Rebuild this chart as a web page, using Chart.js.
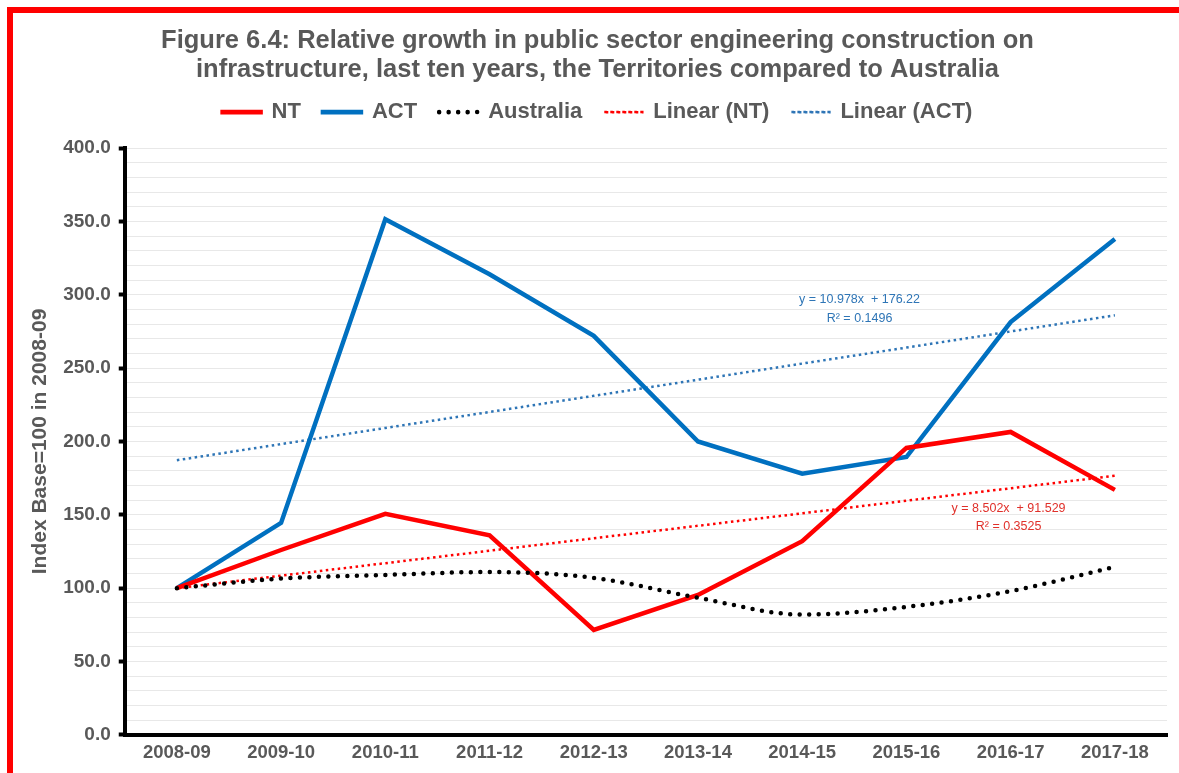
<!DOCTYPE html>
<html>
<head>
<meta charset="utf-8">
<script src="https://cdn.jsdelivr.net/npm/chart.js@4.4.0/dist/chart.umd.min.js"></script>
<style>
  html, body { margin: 0; padding: 0; background: #fff; overflow: hidden; }
  #frame { position: absolute; left: 7px; top: 7px; width: 1200px; height: 800px;
           border-left: 6px solid #ff0000; border-top: 6px solid #ff0000; }
  #wrap { position: absolute; left: 0; top: 0; width: 1179px; height: 773px; }
</style>
</head>
<body>
<div id="frame"></div>
<div id="wrap"><canvas id="fig64"></canvas></div>
<script>
// categories + values
const years = ['2008-09', '2009-10', '2010-11', '2011-12', '2012-13', '2013-14', '2014-15', '2015-16', '2016-17', '2017-18'];
const nt_vals = [100, 126, 150.6, 136, 71.5, 95.4, 132, 195.6, 206.5, 167];
const act_vals = [100, 144.5, 351.5, 314, 272, 200, 178, 189.4, 281.4, 338];
const aus_vals = [100, 106.5, 109, 111, 107, 93.4, 82, 87.2, 98, 114.5];
// trendline values as printed by the spreadsheet (y = 8.502x + 91.529, y = 10.978x + 176.22)
const nt_trend = [100.0, 108.5, 117.0, 125.5, 134.0, 142.5, 151.0, 159.6, 168.1, 176.6];
const act_trend = [187.2, 198.2, 209.2, 220.1, 231.1, 242.1, 253.1, 264.0, 275.0, 286.0];
const eq_labels = [
    { lines: ['y = 10.978x  + 176.22', 'R\u00b2 = 0.1496'], color: '#2e75b6', at: 6.55, val: [296.5, 283.5] },
    { lines: ['y = 8.502x  + 91.529', 'R\u00b2 = 0.3525'], color: '#e0302a', at: 7.98, val: [154.5, 142] }
];

const grey = '#595959';
const fam = '"Liberation Sans", Arial, sans-serif';

// writes the trendline equations on the plot area
const eqPlugin = {
    id: 'eqPlugin',
    afterDatasetsDraw(chart) {
        const c = chart.ctx;
        const xs = chart.scales.x, ys = chart.scales.y;
        c.save();
        c.font = '12.5px ' + fam;
        c.textAlign = 'center';
        c.textBaseline = 'middle';
        eq_labels.forEach(e => {
            c.fillStyle = e.color;
            e.lines.forEach((t, i) => {
                c.fillText(t, xs.getPixelForValue(e.at), ys.getPixelForValue(e.val[i]));
            });
        });
        c.restore();
    }
};

// a bit more room under the legend
const legendGap = {
    id: 'legendGap',
    beforeInit(chart) {
        const fit = chart.legend.fit;
        chart.legend.fit = function () {
            fit.bind(chart.legend)();
            this.height += 15;
        };
    }
};

let ctx = document.getElementById('fig64');
let chart = new Chart(ctx, {
    type: 'line',
    data: {
        labels: years,
        datasets: [
            { label: 'NT', data: nt_vals, borderColor: '#ff0000', backgroundColor: 'transparent', borderWidth: 4.5, pointRadius: 0, tension: 0, order: 1 },
            { label: 'ACT', data: act_vals, borderColor: '#0070c0', backgroundColor: 'transparent', borderWidth: 4.5, pointRadius: 0, tension: 0, order: 2 },
            { label: 'Australia', data: aus_vals, borderColor: '#000000', backgroundColor: 'transparent', borderWidth: 4.5, borderDash: [0, 9.5], borderCapStyle: 'round', pointRadius: 0, cubicInterpolationMode: 'monotone', order: 0 },
            { label: 'Linear (NT)', data: nt_trend, borderColor: '#ff0000', backgroundColor: 'transparent', borderWidth: 2.5, borderDash: [2.5, 3.5], pointRadius: 0, tension: 0, order: 3 },
            { label: 'Linear (ACT)', data: act_trend, borderColor: '#2e75b6', backgroundColor: 'transparent', borderWidth: 2.5, borderDash: [2.5, 3.5], pointRadius: 0, tension: 0, order: 4 }
        ]
    },
    options: {
        responsive: true,
        maintainAspectRatio: false,
        animation: false,
        layout: { padding: { left: 28, right: 12, top: 27, bottom: 2 } },
        scales: {
            x: {
                offset: true,
                grid: { display: false, drawTicks: false },
                border: { color: '#000', width: 4 },
                ticks: { color: grey, padding: 7, maxRotation: 0, font: { family: fam, size: 18.5, weight: 'bold' } }
            },
            y: {
                min: 0,
                max: 400,
                grid: {
                    color: '#e8e8e8',
                    lineWidth: 1,
                    tickLength: 6,
                    tickWidth: 4,
                    tickColor: c => (c.tick && c.tick.value % 50 === 0) ? '#000' : 'rgba(0,0,0,0)'
                },
                border: { color: '#000', width: 4 },
                ticks: {
                    stepSize: 10,
                    autoSkip: false,
                    color: grey,
                    padding: 8,
                    font: { family: fam, size: 19, weight: 'bold' },
                    callback: v => v % 50 === 0 ? v.toFixed(1) : ''
                },
                title: {
                    display: true,
                    text: 'Index Base=100 in 2008-09',
                    color: grey,
                    padding: { top: 0, bottom: 2 },
                    font: { family: fam, size: 21, weight: 'bold' }
                }
            }
        },
        plugins: {
            title: {
                display: true,
                text: ['Figure 6.4: Relative growth in public sector engineering construction on', 'infrastructure, last ten years, the Territories compared to Australia'],
                color: grey,
                padding: { top: 0, bottom: -5 },
                font: { family: fam, size: 25.5, weight: 'bold', lineHeight: 1.12 }
            },
            legend: {
                labels: {
                    boxWidth: 38,
                    boxHeight: 0.01,
                    color: grey,
                    padding: 22,
                    sort: (a, b) => a.datasetIndex - b.datasetIndex,
                    font: { family: fam, size: 22, weight: 'bold' }
                }
            },
            tooltip: { enabled: false }
        }
    },
    plugins: [eqPlugin, legendGap]
});
</script>
</body>
</html>
